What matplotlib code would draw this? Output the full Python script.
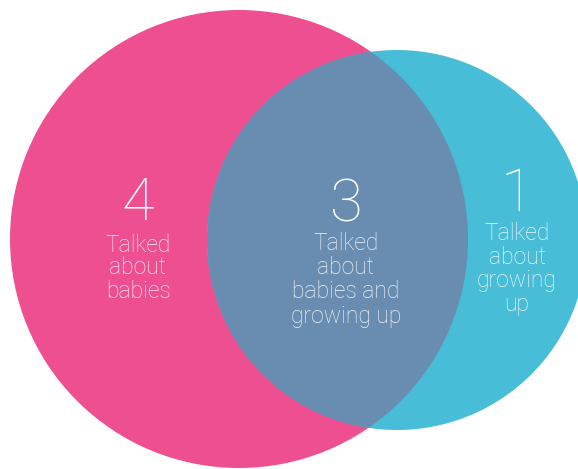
import matplotlib
matplotlib.use('Agg')
from matplotlib import pyplot as plt
from matplotlib.patches import Circle

# venn counts and labels
counts = [4, 3, 1]
labels = ['Talked\nabout\nbabies',
          'Talked\nabout\nbabies and\ngrowing up',
          'Talked\nabout\ngrowing\nup']

pink = '#EE4F90'
blue = '#48BDD7'
overlap = '#688DB0'

W, H = 578, 469
fig = plt.figure(figsize=(W/100, H/100), dpi=100)
ax = fig.add_axes([0, 0, 1, 1])
ax.set_xlim(0, W)
ax.set_ylim(H, 0)
ax.set_aspect('equal')
ax.axis('off')

# circles in pixel coordinates
cBabies = Circle((239, 239), 229, color=pink, lw=0)
cGrowing = Circle((397, 240), 190, color=blue, lw=0)
ax.add_patch(cBabies)
ax.add_patch(cGrowing)
cBoth = Circle((239, 239), 229, color=overlap, lw=0)
ax.add_patch(cBoth)
cBoth.set_clip_path(cGrowing)

numPos = [(138, 204), (346, 205), (517, 195)]
textTop = [245, 243, 233]
lineStep = [23, 24.5, 24]

for i in range(3):
    x, y = numPos[i]
    ax.text(x, y, str(counts[i]), color='white', fontsize=43, family='Roboto',
            fontweight='light', ha='center', va='center')
    for j, line in enumerate(labels[i].split('\n')):
        ax.text(x, textTop[i] + j*lineStep[i], line, color='white', alpha=0.9,
                fontsize=16.5, family='Roboto', fontweight='light',
                ha='center', va='center')

fig.savefig('out.png', dpi=100)
